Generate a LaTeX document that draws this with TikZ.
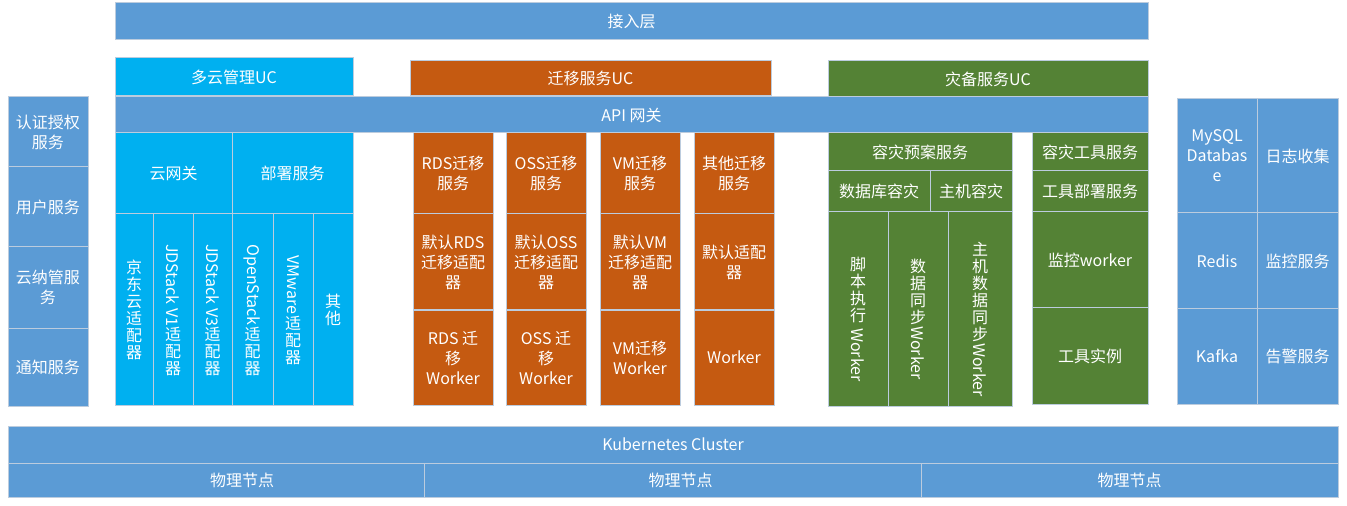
\documentclass[tikz,border=0pt]{standalone}
\usepackage{fontspec}
\usepackage{graphicx}
\setmainfont{Noto Sans CJK SC}
\definecolor{cblue}{HTML}{5B9BD5}
\definecolor{ccyan}{HTML}{00B0F0}
\definecolor{corange}{HTML}{C55A11}
\definecolor{cgreen}{HTML}{548235}
\definecolor{cedge}{RGB}{188,204,222}
\tikzset{
  cellbox/.style={draw=cedge, line width=0.75pt, text=white, inner sep=0pt, outer sep=0pt,
    align=center, font=\fontsize{12pt}{15pt}\selectfont},
  vert/.style={font=\fontsize{12pt}{12.8pt}\selectfont, text depth=0pt},
}
\newcommand{\mkcell}[8][]{\node[cellbox, fill=#7, minimum width={(#4-#2)*0.75pt}, minimum height={(#5-#3)*0.75pt}, #1] (#6) at ({(#2+#4)/2},{(#3+#5)/2}) {#8};}
\newcommand{\rt}[1]{\rotatebox[origin=c]{-90}{#1}}
\begin{document}
\begin{tikzpicture}[x=0.75pt,y=-0.75pt]
\useasboundingbox (0,0) rectangle (1347,506);
% top layers
\mkcell{115}{3}{1148}{40}{top}{cblue}{接入层}
\mkcell{115}{58}{353}{96}{ucA}{ccyan}{多云管理UC}
\mkcell{410}{61}{771}{96}{ucB}{corange}{迁移服务UC}
\mkcell{828}{61}{1148}{97}{ucC}{cgreen}{灾备服务UC}
\mkcell{115}{97}{1148}{133}{api}{cblue}{API 网关}
% left column
\mkcell{8}{97}{88}{167}{auth}{cblue}{认证授权\\服务}
\mkcell{8}{167}{88}{247}{user}{cblue}{用户服务}
\mkcell{8}{247}{88}{328}{cmp}{cblue}{云纳管服\\务}
\mkcell{8}{328}{88}{406}{notify}{cblue}{通知服务}
% multi-cloud
\mkcell{115}{133}{232}{214}{cgw}{ccyan}{云网关}
\mkcell{232}{133}{353}{214}{deploy}{ccyan}{部署服务}
\mkcell[vert]{115}{214}{153}{405}{adA}{ccyan}{京\\东\\云\\适\\配\\器}
\mkcell[vert]{153}{214}{193}{405}{adB}{ccyan}{\rt{JDStack V1}\\适\\配\\器}
\mkcell[vert]{193}{214}{232}{405}{adC}{ccyan}{\rt{JDStack V3}\\适\\配\\器}
\mkcell[vert]{232}{214}{273}{405}{adD}{ccyan}{\rt{OpenStack}\\适\\配\\器}
\mkcell[vert]{273}{214}{313}{405}{adE}{ccyan}{\rt{VMware}\\适\\配\\器}
\mkcell[vert]{313}{214}{353}{405}{adF}{ccyan}{其\\他}
% migration
\mkcell{413}{133}{493}{214}{mA1}{corange}{RDS迁移\\服务}
\mkcell{506}{133}{586}{214}{mB1}{corange}{OSS迁移\\服务}
\mkcell{600}{133}{680}{214}{mC1}{corange}{VM迁移\\服务}
\mkcell{694}{133}{774}{214}{mD1}{corange}{其他迁移\\服务}
\mkcell{413}{214}{493}{310}{mA2}{corange}{默认RDS\\迁移适配\\器}
\mkcell{506}{214}{586}{310}{mB2}{corange}{默认OSS\\迁移适配\\器}
\mkcell{600}{214}{680}{310}{mC2}{corange}{默认VM\\迁移适配\\器}
\mkcell{694}{214}{774}{310}{mD2}{corange}{默认适配\\器}
\mkcell{413}{310}{493}{405}{mA3}{corange}{RDS 迁\\移\\Worker}
\mkcell{506}{310}{586}{405}{mB3}{corange}{OSS 迁\\移\\Worker}
\mkcell{600}{310}{680}{405}{mC3}{corange}{VM迁移\\Worker}
\mkcell{694}{310}{774}{405}{mD3}{corange}{Worker}
% disaster recovery
\mkcell{828}{133}{1012}{171}{plan}{cgreen}{容灾预案服务}
\mkcell{828}{171}{930}{212}{dbdr}{cgreen}{数据库容灾}
\mkcell{930}{171}{1012}{212}{hostdr}{cgreen}{主机容灾}
\mkcell[vert]{828}{212}{888}{406}{wA}{cgreen}{脚\\本\\执\\行\\[3pt]\rt{Worker}}
\mkcell[vert]{888}{212}{948}{406}{wB}{cgreen}{数\\据\\同\\步\\\rt{Worker}}
\mkcell[vert]{948}{212}{1012}{406}{wC}{cgreen}{主\\机\\数\\据\\同\\步\\\rt{Worker}}
\mkcell{1032}{133}{1148}{171}{tool}{cgreen}{容灾工具服务}
\mkcell{1032}{171}{1148}{212}{tdep}{cgreen}{工具部署服务}
\mkcell{1032}{212}{1148}{308}{mon}{cgreen}{监控worker}
\mkcell{1032}{308}{1148}{404}{inst}{cgreen}{工具实例}
% right column
\mkcell{1177}{99}{1257}{213}{mysql}{cblue}{MySQL\\Databas\\e}
\mkcell{1257}{99}{1338}{213}{logs}{cblue}{日志收集}
\mkcell{1177}{213}{1257}{309}{redis}{cblue}{Redis}
\mkcell{1257}{213}{1338}{309}{mons}{cblue}{监控服务}
\mkcell{1177}{309}{1257}{404}{kafka}{cblue}{Kafka}
\mkcell{1257}{309}{1338}{404}{alert}{cblue}{告警服务}
% bottom
\mkcell{8}{426}{1338}{463}{k8s}{cblue}{Kubernetes Cluster}
\mkcell{8}{463}{424}{497}{pA}{cblue}{\hspace*{39pt}物理节点}
\mkcell{424}{463}{921}{497}{pB}{cblue}{\hspace*{12pt}物理节点}
\mkcell{921}{463}{1338}{497}{pC}{cblue}{物理节点}
\end{tikzpicture}
\end{document}
